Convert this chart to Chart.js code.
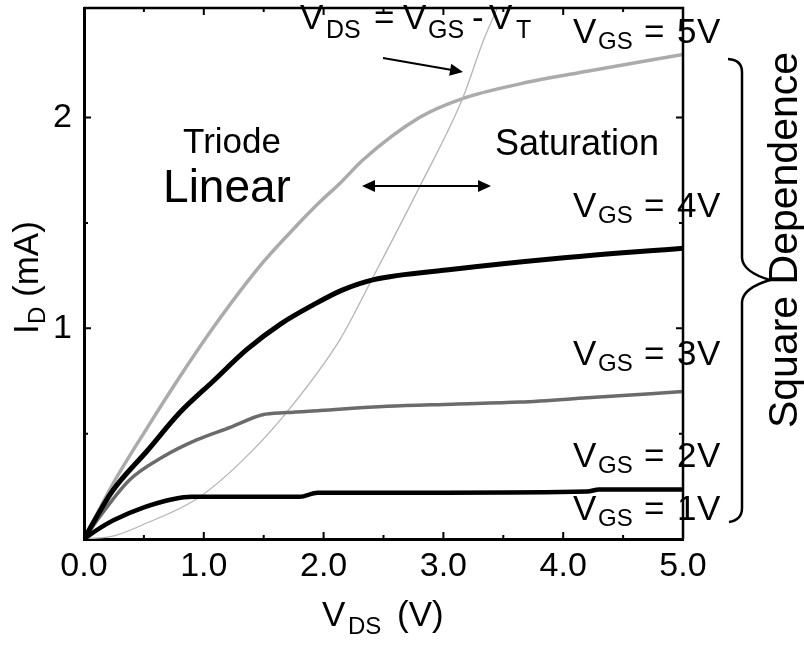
<!DOCTYPE html>
<html>
<head>
<meta charset="utf-8">
<script src="https://cdn.jsdelivr.net/npm/chart.js@4.4.1/dist/chart.umd.min.js"></script>
<style>
    body { margin: 0; background: #fff; }
    canvas { display: block; }
</style>
</head>
<body>
<canvas id="ivChart" width="804" height="645"></canvas>
<script>
// Output curves I_D (mA) vs V_DS (V)
const curve5X = [0, 0.1, 0.25, 0.53, 0.8, 1.1, 1.49, 1.78, 1.97, 2.14, 2.33, 2.8, 3.16, 3.64, 4.2, 5.0];
const curve5Y = [0, 0.11, 0.27, 0.53, 0.77, 1.02, 1.31, 1.49, 1.6, 1.69, 1.8, 2.0, 2.09, 2.16, 2.22, 2.30];

const curve4X = [0, 0.1, 0.24, 0.53, 0.8, 1.08, 1.36, 1.64, 1.91, 2.15, 2.41, 3.08, 3.92, 5.0];
const curve4Y = [0, 0.1, 0.23, 0.42, 0.6, 0.75, 0.9, 1.02, 1.11, 1.18, 1.23, 1.28, 1.33, 1.38];

const curve3X = [0, 0.15, 0.38, 0.66, 0.94, 1.22, 1.49, 1.69, 1.97, 2.53, 3.08, 3.64, 4.2, 5.0];
const curve3Y = [0, 0.12, 0.28, 0.39, 0.47, 0.53, 0.59, 0.6, 0.61, 0.63, 0.64, 0.65, 0.67, 0.70];

const curve2X = [0, 0.1, 0.25, 0.5, 0.75, 0.9, 1.2, 1.8, 1.95, 3.0, 4.2, 4.3, 5.0];
const curve2Y = [0, 0.04, 0.09, 0.15, 0.19, 0.2, 0.2, 0.2, 0.22, 0.22, 0.225, 0.235, 0.235];

// V_DS = V_GS - V_T boundary
const edgeX = [0, 0.25, 0.5, 0.94, 1.3, 1.69, 2.14, 2.41, 2.8, 3.16, 3.33, 3.45];
const edgeY = [0, 0.015, 0.07, 0.19, 0.36, 0.6, 0.95, 1.24, 1.67, 2.09, 2.36, 2.52];

const xTicks = [0, 1, 2, 3, 4, 5];
const xMinor = [0.5, 1.5, 2.5, 3.5, 4.5];
const yTicks = [1, 2];
const yMinor = [0.5, 1.5];

const FONT = "'Liberation Sans', Arial, Helvetica, sans-serif";

function pts(xs, ys) {
    return xs.map((x, i) => ({ x: x, y: ys[i] }));
}

function drawParts(ctx, parts) {
    parts.forEach(p => {
        ctx.font = p[3] + "px " + FONT;
        ctx.fillText(p[0], p[1], p[2]);
    });
}

function arrowHead(ctx, x, y, angle, len, half) {
    ctx.save();
    ctx.translate(x, y);
    ctx.rotate(angle);
    ctx.beginPath();
    ctx.moveTo(0, 0);
    ctx.lineTo(-len, -half);
    ctx.lineTo(-len, half);
    ctx.closePath();
    ctx.fill();
    ctx.restore();
}

// frame, inward ticks and the text notes
const decorations = {
    id: "decorations",
    afterDraw(chart) {
        const ctx = chart.ctx;
        const a = chart.chartArea;
        const x = chart.scales.x;
        const y = chart.scales.y;

        ctx.save();
        ctx.strokeStyle = "#000";
        ctx.fillStyle = "#000";

        // top and right edges of the box
        ctx.lineWidth = 2.5;
        ctx.beginPath();
        ctx.moveTo(a.left, a.top);
        ctx.lineTo(a.right, a.top);
        ctx.lineTo(a.right, a.bottom);
        ctx.stroke();

        ctx.lineWidth = 2;
        xTicks.concat(xMinor).forEach(v => {
            const len = xTicks.includes(v) ? 7 : 4;
            const px = x.getPixelForValue(v);
            ctx.beginPath();
            ctx.moveTo(px, a.bottom);
            ctx.lineTo(px, a.bottom - len);
            ctx.moveTo(px, a.top);
            ctx.lineTo(px, a.top + len);
            ctx.stroke();
        });
        yTicks.concat(yMinor).forEach(v => {
            const len = yTicks.includes(v) ? 7 : 4;
            const py = y.getPixelForValue(v);
            ctx.beginPath();
            ctx.moveTo(a.left, py);
            ctx.lineTo(a.left + len, py);
            ctx.moveTo(a.right, py);
            ctx.lineTo(a.right - len, py);
            ctx.stroke();
        });

        ctx.textBaseline = "alphabetic";
        ctx.textAlign = "center";
        ctx.font = "35px " + FONT;
        ctx.fillText("Triode", 232, 153);
        ctx.font = "46px " + FONT;
        ctx.fillText("Linear", 227, 202);
        ctx.font = "36px " + FONT;
        ctx.fillText("Saturation", 577, 155);

        // double arrow between the regions
        ctx.lineWidth = 2;
        ctx.beginPath();
        ctx.moveTo(370, 186);
        ctx.lineTo(482, 186);
        ctx.stroke();
        arrowHead(ctx, 362, 186, Math.PI, 13, 6);
        arrowHead(ctx, 491, 186, 0, 13, 6);

        // arrow pointing at the boundary curve
        ctx.beginPath();
        ctx.moveTo(383, 58);
        ctx.lineTo(452, 70);
        ctx.stroke();
        arrowHead(ctx, 463, 72, Math.atan2(14, 80), 13, 6);

        ctx.textAlign = "left";
        drawParts(ctx, [
            ["V", 300, 29, 35], ["DS", 326, 38, 25], ["=", 374, 29, 35],
            ["V", 403, 29, 35], ["GS", 428, 38, 25], ["-", 472, 29, 35],
            ["V", 489, 29, 35], ["T", 516, 38, 25]
        ]);

        const labels = [["5", 43], ["4", 217], ["3", 365], ["2", 467], ["1", 520]];
        labels.forEach(l => {
            const b = l[1];
            drawParts(ctx, [
                ["V", 573, b, 35], ["GS", 598, b + 6, 24], ["=", 644, b, 35],
                [l[0], 677, b, 35], ["V", 697, b, 35]
            ]);
        });

        // brace
        ctx.lineWidth = 2.5;
        ctx.beginPath();
        ctx.moveTo(728, 59);
        ctx.quadraticCurveTo(742, 60, 742, 72);
        ctx.lineTo(742, 258);
        ctx.quadraticCurveTo(743, 272, 770, 280);
        ctx.quadraticCurveTo(743, 288, 742, 302);
        ctx.lineTo(742, 508);
        ctx.quadraticCurveTo(742, 520, 729, 522);
        ctx.stroke();

        ctx.save();
        ctx.translate(797, 240);
        ctx.rotate(-Math.PI / 2);
        ctx.textAlign = "center";
        ctx.font = "41px " + FONT;
        ctx.fillText("Square Dependence", 0, 0);
        ctx.restore();

        // axis titles
        drawParts(ctx, [["V", 322, 626, 35], ["DS", 348, 634, 24], ["(V)", 397, 626, 35]]);

        ctx.save();
        ctx.translate(38, 334);
        ctx.rotate(-Math.PI / 2);
        drawParts(ctx, [["I", 0, 0, 35], ["D", 10, 7, 24], ["(mA)", 37, 0, 35]]);
        ctx.restore();

        ctx.restore();
    }
};

const ctx = document.getElementById("ivChart").getContext("2d");
new Chart(ctx, {
    type: "scatter",
    data: {
        datasets: [
            { data: pts(curve2X, curve2Y), borderColor: "#000", borderWidth: 4.5 },
            { data: pts(curve4X, curve4Y), borderColor: "#000", borderWidth: 5 },
            { data: pts(curve3X, curve3Y), borderColor: "#6b6b6b", borderWidth: 3.5 },
            { data: pts(edgeX, edgeY), borderColor: "#b5b5b5", borderWidth: 1.3 },
            { data: pts(curve5X, curve5Y), borderColor: "#ababab", borderWidth: 3.5 }
        ].map(d => Object.assign(d, {
            showLine: true,
            pointRadius: 0,
            tension: 0.3,
            cubicInterpolationMode: "monotone"
        }))
    },
    options: {
        responsive: false,
        animation: false,
        layout: { padding: { top: 8, right: 121, left: 0, bottom: 0 } },
        plugins: {
            legend: { display: false },
            tooltip: { enabled: false }
        },
        scales: {
            x: {
                type: "linear",
                min: 0,
                max: 5,
                grid: { display: false, drawTicks: false },
                border: { display: true, color: "#000", width: 3 },
                afterBuildTicks: s => { s.ticks = xTicks.map(v => ({ value: v })); },
                afterFit: s => { s.height = 106; s.paddingLeft = 0; s.paddingRight = 0; },
                ticks: {
                    autoSkip: false,
                    maxRotation: 0,
                    padding: 7,
                    color: "#000",
                    font: { family: FONT, size: 34 },
                    callback: v => v.toFixed(1)
                }
            },
            y: {
                type: "linear",
                min: 0,
                max: 2.52,
                grid: { display: false, drawTicks: false },
                border: { display: true, color: "#000", width: 3 },
                afterBuildTicks: s => { s.ticks = yTicks.map(v => ({ value: v })); },
                afterFit: s => { s.width = 84; s.paddingTop = 0; s.paddingBottom = 0; },
                ticks: {
                    padding: 12,
                    color: "#000",
                    font: { family: FONT, size: 34 },
                    callback: v => String(v)
                }
            }
        }
    },
    plugins: [decorations]
});
</script>
</body>
</html>
